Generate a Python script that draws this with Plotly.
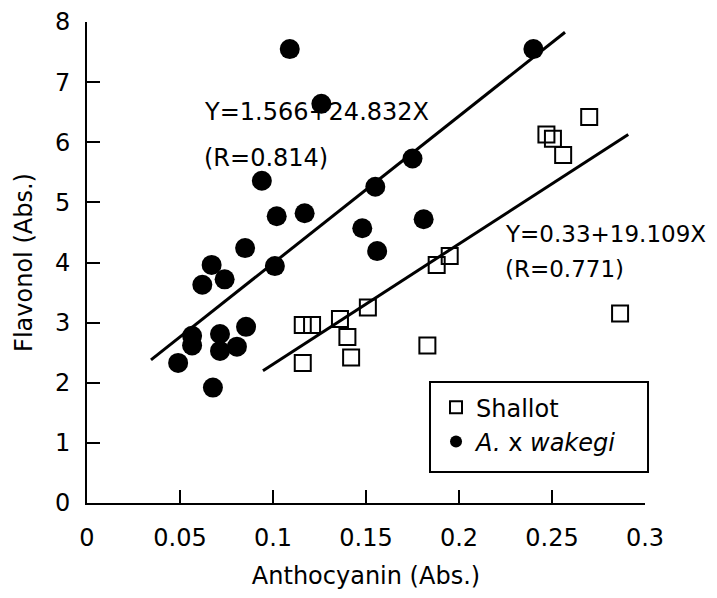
import plotly.graph_objects as go

# Shallot (open squares)
shallot_x = [0.116, 0.121, 0.136, 0.140, 0.151, 0.116, 0.142, 0.188, 0.195, 0.183,
             0.270, 0.247, 0.2505, 0.256, 0.2866]
shallot_y = [2.96, 2.96, 3.06, 2.76, 3.25, 2.33, 2.42, 3.96, 4.11, 2.62,
             6.42, 6.13, 6.06, 5.79, 3.15]

# A. x wakegi (filled circles)
wakegi_x = [0.109, 0.126, 0.240, 0.094, 0.175, 0.155, 0.102, 0.117, 0.148, 0.181,
            0.156, 0.085, 0.101, 0.067, 0.074, 0.062, 0.0565, 0.0565, 0.049, 0.0715,
            0.0715, 0.0806, 0.0855, 0.0677]
wakegi_y = [7.55, 6.64, 7.55, 5.36, 5.73, 5.26, 4.77, 4.82, 4.57, 4.72,
            4.19, 4.24, 3.94, 3.96, 3.72, 3.63, 2.78, 2.62, 2.33, 2.81,
            2.53, 2.60, 2.93, 1.92]

# Regression lines (endpoints as drawn)
wakegi_fit_x = [0.0344, 0.257]
wakegi_fit_y = [2.38, 7.83]
shallot_fit_x = [0.0946, 0.291]
shallot_fit_y = [2.20, 6.13]

x_ticks = [0, 0.05, 0.1, 0.15, 0.2, 0.25, 0.3]
x_tick_labels = ["0", "0.05", "0.1", "0.15", "0.2", "0.25", "0.3"]
y_ticks = [0, 1, 2, 3, 4, 5, 6, 7, 8]

FONT = "DejaVu Sans"
FS = 24

fig = go.Figure()
fig.add_trace(go.Scatter(x=wakegi_fit_x, y=wakegi_fit_y, mode="lines",
                         line=dict(color="black", width=3), showlegend=False, hoverinfo="skip"))
fig.add_trace(go.Scatter(x=shallot_fit_x, y=shallot_fit_y, mode="lines",
                         line=dict(color="black", width=3), showlegend=False, hoverinfo="skip"))
fig.add_trace(go.Scatter(x=shallot_x, y=shallot_y, mode="markers", name="Shallot",
                         marker=dict(symbol="square-open", size=16, color="black",
                                     line=dict(width=2, color="black"))))
fig.add_trace(go.Scatter(x=wakegi_x, y=wakegi_y, mode="markers",
                         name="<i>A.</i> x <i>wakegi</i>",
                         marker=dict(symbol="circle", size=20, color="black")))

ann_font = dict(family=FONT, size=FS, color="black")
ann_font2 = dict(family=FONT, size=23, color="black")
fig.add_annotation(x=0.0618, y=6.51, xref="x", yref="y", text="Y=1.566+24.832X",
                   showarrow=False, xanchor="left", yanchor="middle", font=ann_font)
fig.add_annotation(x=0.0618, y=5.73, xref="x", yref="y", text="(R=0.814)",
                   showarrow=False, xanchor="left", yanchor="middle", font=ann_font)
fig.add_annotation(x=0.2237, y=4.47, xref="x", yref="y", text="Y=0.33+19.109X",
                   showarrow=False, xanchor="left", yanchor="middle", font=ann_font2)
fig.add_annotation(x=0.2237, y=3.89, xref="x", yref="y", text="(R=0.771)",
                   showarrow=False, xanchor="left", yanchor="middle", font=ann_font2)

# legend frame
fig.add_shape(type="rect", xref="paper", yref="paper",
              x0=0.6147, x1=1.0054, y0=0.0642, y1=0.2515,
              line=dict(color="black", width=2), fillcolor="white", layer="above")

# page body has an 8px default margin: figure is sized/offset to compensate
fig.update_layout(
    width=701, height=582,
    margin=dict(l=79, r=64, t=14, b=87, autoexpand=False),
    plot_bgcolor="white", paper_bgcolor="white",
    font=dict(family=FONT, size=FS, color="black"),
    showlegend=True,
    legend=dict(x=0.6255, y=0.245, xanchor="left", yanchor="top",
                borderwidth=0, bgcolor="rgba(0,0,0,0)",
                font=dict(family=FONT, size=FS, color="black"),
                itemsizing="constant", tracegroupgap=0),
)
fig.update_xaxes(range=[0, 0.3], tickvals=x_ticks, ticktext=x_tick_labels,
                 automargin=False, ticklabeloverflow="allow",
                 showline=True, linecolor="black", linewidth=2, mirror=False,
                 ticks="inside", ticklen=13, tickwidth=2, tickcolor="black",
                 showgrid=False, zeroline=False, ticklabelstandoff=12,
                 title=dict(text="Anthocyanin (Abs.)", standoff=20,
                            font=dict(family=FONT, size=FS)))
fig.update_yaxes(range=[0, 8], tickvals=y_ticks,
                 automargin=False, ticklabeloverflow="allow",
                 showline=True, linecolor="black", linewidth=2, mirror=False,
                 ticks="inside", ticklen=13, tickwidth=2, tickcolor="black",
                 showgrid=False, zeroline=False, ticklabelstandoff=10,
                 title=dict(text="Flavonol (Abs.)", standoff=16,
                            font=dict(family=FONT, size=FS)))

fig.write_html("out.html")
